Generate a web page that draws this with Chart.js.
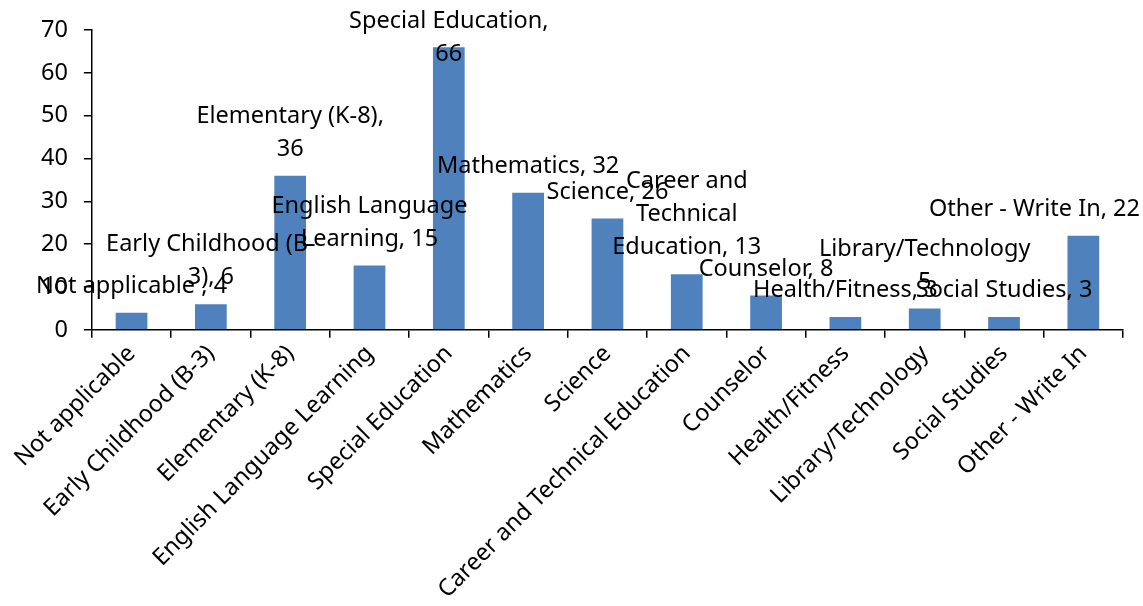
<!DOCTYPE html>
<html>
<head>
<meta charset="utf-8">
<script src="https://cdn.jsdelivr.net/npm/chart.js@4/dist/chart.umd.min.js"></script>
<style>
  html, body { margin: 0; padding: 0; background: #fff; }
  #wrap { width: 1143px; height: 606px; }
</style>
</head>
<body>
<div id="wrap"><canvas id="chart"></canvas></div>
<script>
// ---- data ----
const categories = [
  "Not applicable", "Early Childhood (B-3)", "Elementary (K-8)",
  "English Language Learning", "Special Education", "Mathematics",
  "Science", "Career and Technical Education", "Counselor",
  "Health/Fitness", "Library/Technology", "Social Studies", "Other - Write In"
];
const counts = [4, 6, 36, 15, 66, 32, 26, 13, 8, 3, 5, 3, 22];
const yTicks = [0, 10, 20, 30, 40, 50, 60, 70];
// wrapped data label text, {v} is replaced by the value
const labelLines = [
  ["Not applicable , {v}"],
  ["Early Childhood (B-", "3), {v}"],
  ["Elementary (K-8),", "{v}"],
  ["English Language", "Learning, {v}"],
  ["Special Education,", "{v}"],
  ["Mathematics, {v}"],
  ["Science, {v}"],
  ["Career and", "Technical", "Education, {v}"],
  ["Counselor, {v}"],
  ["Health/Fitness, {v}"],
  ["Library/Technology", "{v}"],
  ["Social Studies, {v}"],
  ["Other - Write In, {v}"]
];

const FONT = "'Noto Sans', sans-serif";
const FSIZE = 23.5;

// draws "Category, value" labels above each bar
const barLabels = {
  id: "barLabels",
  afterDatasetsDraw(chart) {
    const ctx = chart.ctx;
    const meta = chart.getDatasetMeta(0);
    const lh = 33;
    ctx.save();
    ctx.font = FSIZE + "px " + FONT;
    ctx.fillStyle = "#000";
    ctx.textAlign = "center";
    ctx.textBaseline = "middle";
    meta.data.forEach((bar, i) => {
      const lines = labelLines[i].map((s) => s.replace("{v}", counts[i]));
      let top = bar.y - 10 - lines.length * lh;
      if (top < 5) top = 5;
      const w = Math.max(...lines.map((s) => ctx.measureText(s).width));
      let x = bar.x;
      if (x + w / 2 > chart.width - 3) x = chart.width - 3 - w / 2;
      lines.forEach((s, j) => {
        ctx.fillText(s, x, top + lh * (j + 0.5));
      });
    });
    ctx.restore();
  },
};

new Chart(document.getElementById("chart"), {
  type: "bar",
  data: {
    labels: categories,
    datasets: [
      {
        data: counts,
        backgroundColor: "#4F81BD",
        borderWidth: 0,
        barPercentage: 0.4,
        categoryPercentage: 1,
      },
    ],
  },
  options: {
    responsive: true,
    maintainAspectRatio: false,
    animation: false,
    layout: { padding: { top: 14, left: 25, right: 20, bottom: 0 } },
    plugins: {
      legend: { display: false },
      tooltip: { enabled: false },
    },
    scales: {
      x: {
        grid: {
          offset: true,
          drawOnChartArea: false,
          drawTicks: true,
          tickLength: 8,
          color: "#000",
          lineWidth: 1.5,
        },
        border: { color: "#000", width: 1.5 },
        ticks: {
          color: "#000",
          font: { family: FONT, size: FSIZE },
          minRotation: 45,
          maxRotation: 45,
          padding: 2,
          autoSkip: false,
        },
      },
      y: {
        min: yTicks[0],
        max: yTicks[yTicks.length - 1],
        afterBuildTicks: (scale) => {
          scale.ticks = yTicks.map((v) => ({ value: v }));
        },
        grid: {
          drawOnChartArea: false,
          drawTicks: true,
          tickLength: 8,
          color: "#000",
          lineWidth: 1.5,
        },
        border: { color: "#000", width: 1.5 },
        ticks: {
          color: "#000",
          font: { family: FONT, size: FSIZE },
          padding: 16,
        },
      },
    },
  },
  plugins: [barLabels],
});
</script>
</body>
</html>
